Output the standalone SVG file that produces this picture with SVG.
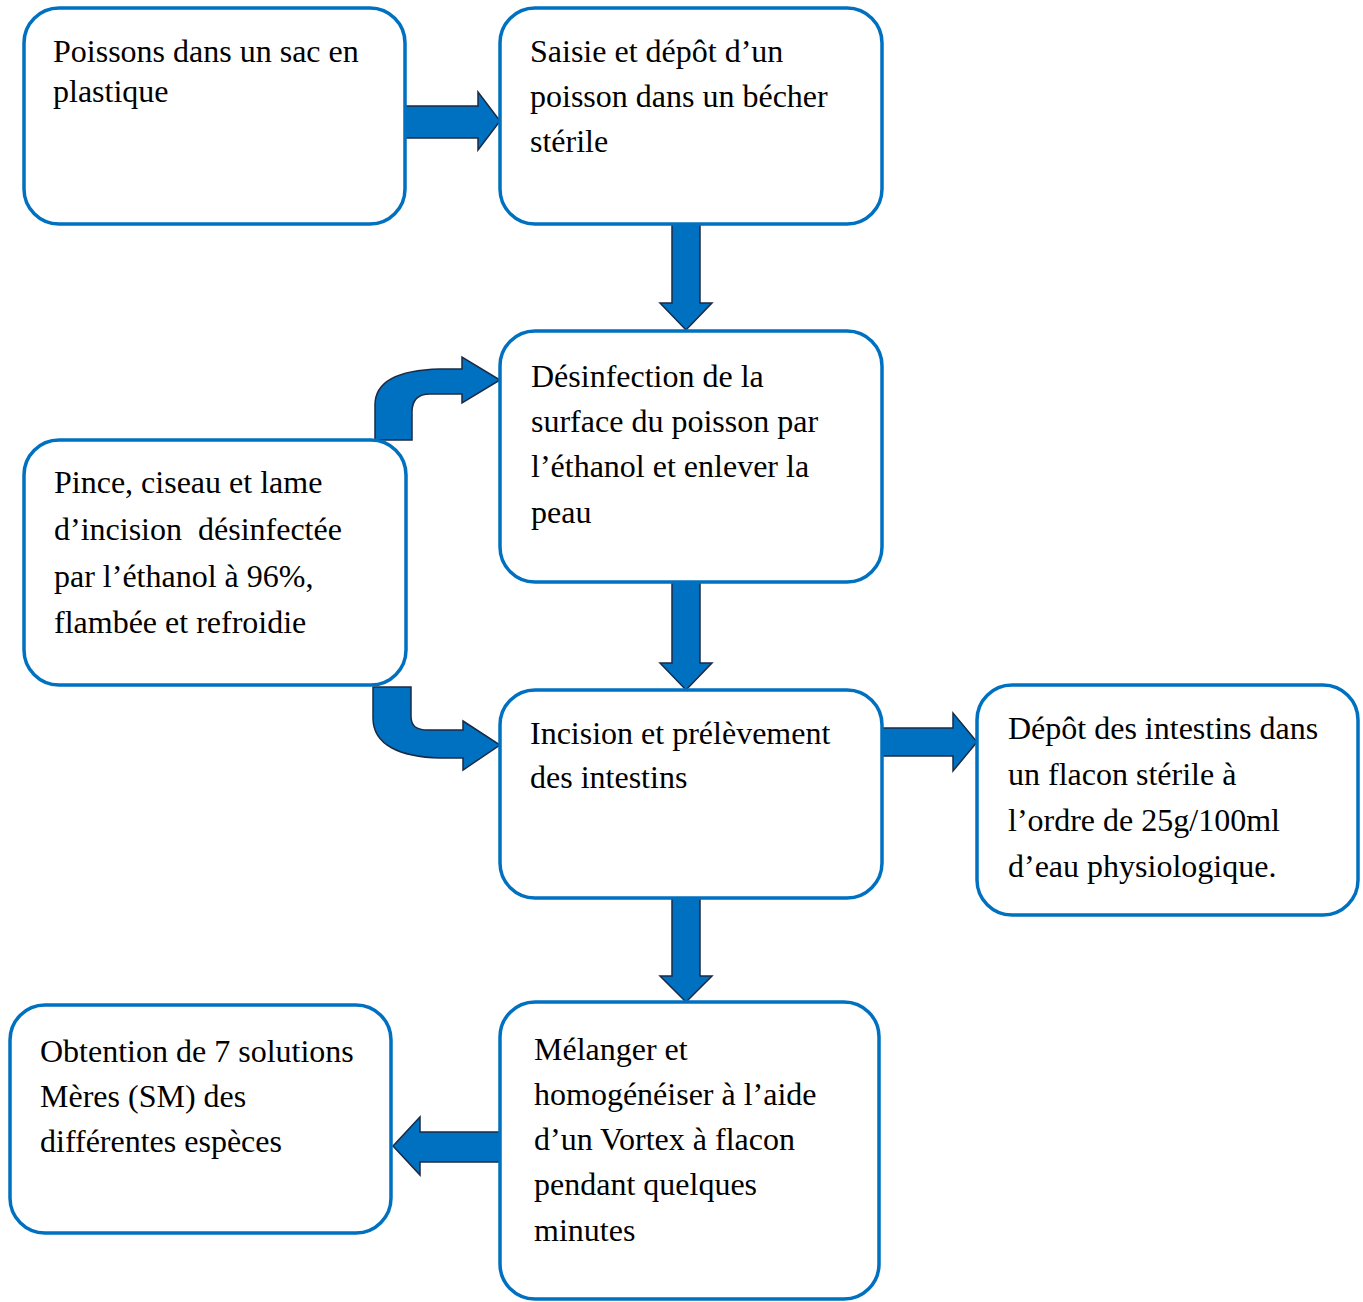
<svg xmlns="http://www.w3.org/2000/svg" width="1363" height="1302" viewBox="0 0 1363 1302">
<style>
.box{fill:#fff;stroke:#0070C0;stroke-width:3.5}
.arr{fill:#0070C0;stroke:#1a2a44;stroke-width:1.5;stroke-linejoin:miter}
.t{font-family:'Liberation Serif',Tinos,'Times New Roman',Times,'DejaVu Serif',serif;font-size:32px;fill:#000}
</style>
<rect width="1363" height="1302" fill="#fff"/>
<g id="connectors">
<path class="arr" d="M405,106 L478,106 L478,92 L500,121 L478,150 L478,138 L405,138 Z"/>
<path class="arr" d="M672,224 L700,224 L700,303 L712,303 L686,330 L660,303 L672,303 Z"/>
<path class="arr" d="M672,582 L700,582 L700,663 L712,663 L686,690 L660,663 L672,663 Z"/>
<path class="arr" d="M672,898 L700,898 L700,976 L712,976 L686,1002 L660,976 L672,976 Z"/>
<path class="arr" d="M882,728 L953,728 L953,713 L977,742 L953,771 L953,756 L882,756 Z"/>
<path class="arr" d="M500,1132 L420,1132 L420,1117 L393,1146 L420,1175 L420,1162 L500,1162 Z"/>
<path class="arr" d="M375,440 L375,405 C375,382 398,370 440,369 L462,369 L462,357 L500,380 L462,403 L462,394 L430,394 C418,394 412,400 412,412 L412,440 Z"/>
<path class="arr" d="M373,687 L411,687 L411,716 C411,726 416,730 428,730 L463,730 L463,721 L500,745 L463,770 L463,758 L440,758 C400,757 373,745 373,718 Z"/>
</g>
<g id="n1" class="t" font-family="Liberation Serif, serif"><rect class="box" x="24" y="8" width="381" height="216" rx="35"/>
<text x="53" y="62">Poissons dans un sac en</text><text x="53" y="102">plastique</text></g>
<g id="n2" class="t" font-family="Liberation Serif, serif"><rect class="box" x="500" y="8" width="382" height="216" rx="35"/>
<text x="530" y="62">Saisie et dépôt d’un</text><text x="530" y="107">poisson dans un bécher</text><text x="530" y="152">stérile</text></g>
<g id="n3" class="t" font-family="Liberation Serif, serif"><rect class="box" x="500" y="331" width="382" height="251" rx="35"/>
<text x="531" y="387">Désinfection de la</text><text x="531" y="432">surface du poisson par</text><text x="531" y="477">l’éthanol et enlever la</text><text x="531" y="523">peau</text></g>
<g id="n4" class="t" font-family="Liberation Serif, serif"><rect class="box" x="24" y="440" width="382" height="245" rx="35"/>
<text x="54" y="493">Pince, ciseau et lame</text><text x="54" y="540" xml:space="preserve">d’incision  désinfectée</text><text x="54" y="587">par l’éthanol à 96%,</text><text x="54" y="633">flambée et refroidie</text></g>
<g id="n5" class="t" font-family="Liberation Serif, serif"><rect class="box" x="500" y="690" width="382" height="208" rx="35"/>
<text x="530" y="744">Incision et prélèvement</text><text x="530" y="788">des intestins</text></g>
<g id="n6" class="t" font-family="Liberation Serif, serif"><rect class="box" x="977" y="685" width="381" height="230" rx="35"/>
<text x="1008" y="739">Dépôt des intestins dans</text><text x="1008" y="785">un flacon stérile à</text><text x="1008" y="831">l’ordre de 25g/100ml</text><text x="1008" y="877">d’eau physiologique.</text></g>
<g id="n7" class="t" font-family="Liberation Serif, serif"><rect class="box" x="500" y="1002" width="379" height="297" rx="35"/>
<text x="534" y="1060">Mélanger et</text><text x="534" y="1105">homogénéiser à l’aide</text><text x="534" y="1150">d’un Vortex à flacon</text><text x="534" y="1195">pendant quelques</text><text x="534" y="1241">minutes</text></g>
<g id="n8" class="t" font-family="Liberation Serif, serif"><rect class="box" x="10" y="1005" width="381" height="228" rx="35"/>
<text x="40" y="1062">Obtention de 7 solutions</text><text x="40" y="1107">Mères (SM) des</text><text x="40" y="1152">différentes espèces</text></g>
</svg>
